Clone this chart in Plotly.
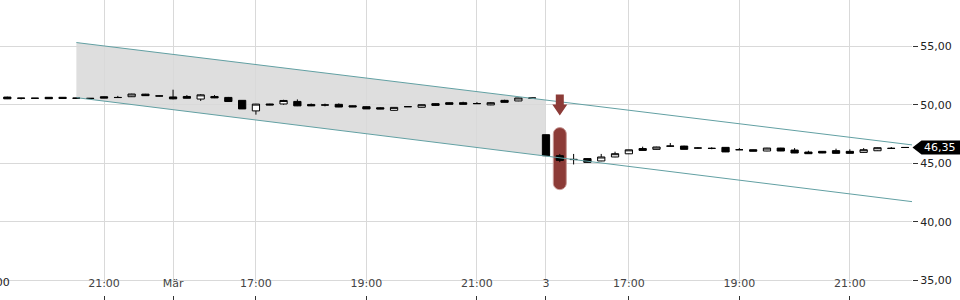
import numpy as np
import plotly.graph_objects as go

# ---- data (15-minute candles, index = trading slot) ----
opens = [50.65, 50.56, 50.55, 50.63, 50.63, 50.56, 50.55, 50.68, 50.62, 50.68,
         50.90, 50.75, 50.66, 50.70, 50.48, 50.70, 50.62, 50.37, 49.47, 50.06,
         50.06, 50.28, 50.02, 49.98, 50.03, 49.91, 49.83, 49.74, 49.52, 49.83,
         49.78, 50.09, 50.17, 50.17, 50.10, 49.98, 50.37, 50.32, 50.57, 47.44,
         45.65, 45.34, 45.40, 45.20, 45.54, 45.81, 46.26, 46.19, 46.46, 46.47,
         46.31, 46.28, 46.36, 46.16, 46.16, 46.05, 46.30, 46.13, 45.96, 46.02,
         46.08, 46.02, 45.93, 46.07, 46.28, 46.35]
highs = [50.68, 50.58, 50.57, 50.64, 50.64, 50.62, 50.57, 50.70, 50.75, 50.93,
         50.92, 50.77, 51.28, 50.82, 50.90, 50.82, 50.66, 50.38, 50.07, 50.08,
         50.42, 50.45, 50.10, 50.09, 50.11, 49.93, 49.85, 49.78, 49.78, 49.85,
         50.01, 50.11, 50.19, 50.25, 50.22, 50.22, 50.42, 50.58, 50.59, 47.46,
         45.80, 45.80, 45.42, 45.80, 45.99, 46.16, 46.42, 46.41, 46.73, 46.50,
         46.37, 46.37, 46.38, 46.30, 46.18, 46.32, 46.32, 46.30, 46.07, 46.04,
         46.25, 46.19, 46.30, 46.35, 46.39, 46.37]
lows = [50.48, 50.45, 50.53, 50.50, 50.52, 50.52, 50.52, 50.55, 50.58, 50.66,
        50.76, 50.72, 50.46, 50.54, 50.32, 50.56, 50.26, 49.63, 49.15, 49.96,
        50.00, 49.88, 49.88, 49.86, 49.79, 49.80, 49.63, 49.62, 49.50, 49.81,
        49.76, 49.89, 50.02, 50.02, 50.07, 49.96, 50.19, 50.30, 50.55, 45.64,
        45.10, 44.90, 45.06, 45.18, 45.52, 45.79, 46.08, 46.17, 46.43, 46.18,
        46.25, 46.20, 45.96, 46.14, 46.02, 46.03, 46.04, 45.87, 45.81, 45.87,
        45.84, 45.84, 45.91, 46.05, 46.22, 46.33]
closes = [50.50, 50.55, 50.55, 50.51, 50.53, 50.55, 50.53, 50.56, 50.61, 50.91,
          50.77, 50.74, 50.50, 50.55, 50.84, 50.58, 50.27, 49.64, 50.05, 49.98,
          50.36, 49.90, 49.90, 49.97, 49.80, 49.81, 49.64, 49.63, 49.77, 49.83,
          50.00, 49.94, 50.03, 50.03, 50.09, 50.17, 50.20, 50.57, 50.56, 45.65,
          45.25, 45.32, 45.08, 45.54, 45.82, 46.15, 46.10, 46.39, 46.47, 46.19,
          46.30, 46.27, 45.97, 46.16, 46.03, 46.30, 46.05, 45.88, 45.82, 45.88,
          45.85, 45.85, 46.16, 46.33, 46.27, 46.35]
x_idx = list(range(len(opens)))

tick_idx = [-1, 7, 12, 18, 26, 34, 39, 45, 53, 61]
tick_text = ["19:00", "21:00", "Mär", "17:00", "19:00", "21:00", "3", "17:00", "19:00", "21:00"]

y_ticks = [35, 40, 45, 50, 55]

channel_x = [5, 65.5]
channel_upper = [55.30, 46.57]
channel_lower = [50.60, 41.73]
shade_end = 39

last_price = 46.35
signal_idx = 40
signal_top = 48.05
signal_bottom = 42.75

X_RANGE = [-0.53, 65.5]
Y_RANGE = [34.79, 58.93]

# ---- figure ----
fig = go.Figure()

# shaded channel section (drawn under the grid)
up_end = float(np.interp(shade_end, channel_x, channel_upper))
lo_end = float(np.interp(shade_end, channel_x, channel_lower))
shade_path = (f"M {channel_x[0]},{channel_upper[0]} L {shade_end},{up_end} "
              f"L {shade_end},{lo_end} L {channel_x[0]},{channel_lower[0]} Z")
fig.add_shape(type="path", xref="x", yref="y", path=shade_path,
              fillcolor="#dedede", line=dict(width=0), layer="below")

line_col = "#62a0a3"
fig.add_trace(go.Scatter(x=channel_x, y=channel_upper, mode="lines",
                         line=dict(color=line_col, width=1), hoverinfo="skip"))
fig.add_trace(go.Scatter(x=channel_x, y=channel_lower, mode="lines",
                         line=dict(color=line_col, width=1), hoverinfo="skip"))

fig.add_trace(go.Candlestick(
    x=x_idx, open=opens, high=highs, low=lows, close=closes,
    increasing=dict(fillcolor="white", line=dict(color="black", width=1)),
    decreasing=dict(fillcolor="black", line=dict(color="black", width=1)),
    whiskerwidth=0, hoverinfo="skip"))

# dummy trace so the bottom label axis (x2 on its own hidden y2) is drawn
fig.add_trace(go.Scatter(x=[0], y=[None], xaxis="x2", yaxis="y2",
                         mode="markers", hoverinfo="skip"))

red = "#8c3b37"
# signal bar (rounded)
mid = (signal_top + signal_bottom) / 2
fig.add_shape(type="path", xref="x", yref="y", xsizemode="pixel", ysizemode="pixel",
              xanchor=signal_idx, yanchor=mid,
              path=("M -6.5,-24.5 L -6.5,24.5 C -6.5,28.1 -3.6,31 0,31 "
                    "C 3.6,31 6.5,28.1 6.5,24.5 L 6.5,-24.5 C 6.5,-28.1 3.6,-31 0,-31 "
                    "C -3.6,-31 -6.5,-28.1 -6.5,-24.5 Z"),
              fillcolor=red, line=dict(color="#c99a97", width=1), layer="between")
# arrow
fig.add_shape(type="path", xref="x", yref="y", xsizemode="pixel", ysizemode="pixel",
              xanchor=signal_idx, yanchor=signal_top,
              path="M 0,12 L 7.5,23 L 4,23 L 4,33 L -4,33 L -4,23 L -7.5,23 Z",
              fillcolor=red, line=dict(width=0), layer="above")
# price tag
fig.add_shape(type="path", xref="paper", yref="y", xsizemode="pixel", ysizemode="pixel",
              xanchor=1, yanchor=last_price,
              path="M 0.5,0 L 9.5,7 L 48,7 L 48,-7 L 9.5,-7 Z",
              fillcolor="black", line=dict(width=0), layer="above")
fig.add_annotation(x=1, xref="paper", y=last_price, yref="y", xanchor="left",
                   yanchor="middle", xshift=10, showarrow=False,
                   text=f"{last_price:.2f}".replace(".", ","),
                   font=dict(color="white", size=11, family="DejaVu Sans"))

# cut-off first tick label
fig.add_annotation(x=(tick_idx[0] - X_RANGE[0]) / (X_RANGE[1] - X_RANGE[0]), xref="paper",
                   xanchor="center", y=0, yref="paper", yanchor="bottom", yshift=9,
                   showarrow=False, text=tick_text[0], font=dict(size=11, color="#222"))

grid = "#d9d9d9"
fig.update_layout(
    width=960, height=300, margin=dict(l=0, r=48, t=0, b=0, autoexpand=False),
    paper_bgcolor="white", plot_bgcolor="white", showlegend=False,
    separators=",.", hovermode=False, boxgap=0.25,
    font=dict(family="DejaVu Sans", size=11, color="#222"),
    xaxis=dict(range=X_RANGE, tickvals=tick_idx, showticklabels=False, ticks="",
               showgrid=True, gridcolor=grid, gridwidth=1, zeroline=False,
               showline=False, automargin=False, rangeslider=dict(visible=False)),
    xaxis2=dict(overlaying="x", anchor="free", position=0, side="bottom",
                range=X_RANGE, tickvals=tick_idx, ticktext=tick_text,
                ticks="inside", ticklen=4, tickcolor="#333",
                ticklabelposition="inside", ticklabelstandoff=6,
                showgrid=False, zeroline=False, showline=False, automargin=False),
    yaxis=dict(domain=[17 / 300, 1], side="right", range=Y_RANGE, tickvals=y_ticks,
               tickformat=".2f", ticks="outside", ticklen=5, tickcolor="#333",
               showgrid=True, gridcolor=grid, zeroline=False, showline=False,
               automargin=False),
    yaxis2=dict(overlaying="y", range=Y_RANGE, showticklabels=False, ticks="",
                showgrid=False, zeroline=False, showline=False, automargin=False),
)

fig.write_html("out.html")
